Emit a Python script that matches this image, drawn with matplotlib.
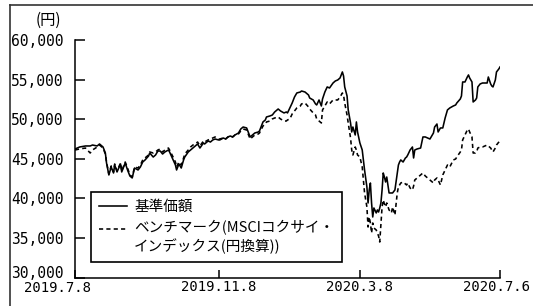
import matplotlib
matplotlib.use("Agg")
import matplotlib.pyplot as plt
from matplotlib.lines import Line2D
from matplotlib.legend_handler import HandlerLine2D
from matplotlib.transforms import ScaledTranslation
import pandas as pd

plt.rcParams['font.family'] = ['Noto Sans CJK JP', 'DejaVu Sans']

dates = [
    "2019-07-08", "2019-07-12", "2019-07-17", "2019-07-21", "2019-07-23", "2019-07-27", "2019-07-29",
    "2019-08-01", "2019-08-03", "2019-08-04", "2019-08-06", "2019-08-08", "2019-08-10", "2019-08-11",
    "2019-08-13", "2019-08-16", "2019-08-17", "2019-08-20", "2019-08-22", "2019-08-24", "2019-08-26",
    "2019-08-28", "2019-08-31", "2019-09-02", "2019-09-04", "2019-09-06", "2019-09-09", "2019-09-10",
    "2019-09-13", "2019-09-15", "2019-09-17", "2019-09-19", "2019-09-21", "2019-09-23", "2019-09-26",
    "2019-09-27", "2019-09-30", "2019-10-02", "2019-10-03", "2019-10-05", "2019-10-07", "2019-10-09",
    "2019-10-10", "2019-10-13", "2019-10-15", "2019-10-17", "2019-10-19", "2019-10-21", "2019-10-23",
    "2019-10-26", "2019-10-27", "2019-10-30", "2019-11-01", "2019-11-03", "2019-11-05", "2019-11-08",
    "2019-11-09", "2019-11-12", "2019-11-14", "2019-11-16", "2019-11-18", "2019-11-20", "2019-11-22",
    "2019-11-25", "2019-11-27", "2019-11-29", "2019-12-02", "2019-12-03", "2019-12-05", "2019-12-07",
    "2019-12-09", "2019-12-12", "2019-12-13", "2019-12-16", "2019-12-18", "2019-12-19", "2019-12-22",
    "2019-12-24", "2019-12-26", "2019-12-29", "2019-12-31", "2020-01-03", "2020-01-05", "2020-01-06",
    "2020-01-08", "2020-01-10", "2020-01-12", "2020-01-14", "2020-01-17", "2020-01-18", "2020-01-21",
    "2020-01-24", "2020-01-25", "2020-01-28", "2020-01-30", "2020-01-31", "2020-02-02", "2020-02-04",
    "2020-02-05", "2020-02-07", "2020-02-09", "2020-02-11", "2020-02-14", "2020-02-16", "2020-02-18",
    "2020-02-20", "2020-02-22", "2020-02-23", "2020-02-24", "2020-02-26", "2020-02-27", "2020-02-29",
    "2020-03-01", "2020-03-02", "2020-03-04", "2020-03-05", "2020-03-06", "2020-03-08", "2020-03-10",
    "2020-03-11", "2020-03-12", "2020-03-14", "2020-03-15", "2020-03-16", "2020-03-17", "2020-03-18",
    "2020-03-19", "2020-03-20", "2020-03-22", "2020-03-23", "2020-03-24", "2020-03-25", "2020-03-26",
    "2020-03-27", "2020-03-28", "2020-03-29", "2020-03-30", "2020-03-31", "2020-04-02", "2020-04-04",
    "2020-04-05", "2020-04-07", "2020-04-09", "2020-04-10", "2020-04-11", "2020-04-12", "2020-04-14",
    "2020-04-16", "2020-04-17", "2020-04-18", "2020-04-20", "2020-04-22", "2020-04-23", "2020-04-24",
    "2020-04-26", "2020-04-29", "2020-05-01", "2020-05-03", "2020-05-05", "2020-05-07", "2020-05-10",
    "2020-05-11", "2020-05-13", "2020-05-14", "2020-05-16", "2020-05-18", "2020-05-20", "2020-05-22",
    "2020-05-24", "2020-05-27", "2020-05-29", "2020-05-30", "2020-06-02", "2020-06-03", "2020-06-04",
    "2020-06-06", "2020-06-08", "2020-06-09", "2020-06-10", "2020-06-12", "2020-06-13", "2020-06-15",
    "2020-06-16", "2020-06-17", "2020-06-19", "2020-06-21", "2020-06-23", "2020-06-25", "2020-06-26",
    "2020-06-28", "2020-06-29", "2020-06-30", "2020-07-02", "2020-07-03", "2020-07-05", "2020-07-06",
]

nav = [
    46270, 46520, 46650, 46650, 46770, 46650, 46900,
    46520, 45760, 44500, 42980, 43990, 43230, 44240,
    43360, 44370, 43360, 44500, 43610, 42850, 42600,
    43860, 43610, 43990, 44620, 44880, 45380, 45760,
    45250, 45510, 46010, 46010, 45630, 45890, 46140,
    45890, 44880, 44240, 43610, 44370, 43860, 44880,
    45250, 45890, 46140, 46390, 46650, 46900, 46390,
    47030, 46900, 47280, 47150, 47410, 47530, 47410,
    47410, 47660, 47530, 47790, 47910, 47790, 48040,
    48290, 48800, 49050, 48930, 48550, 47790, 48040,
    48290, 48420, 48550, 49690, 49940, 50320, 50450,
    50570, 50950, 51330, 51080, 50830, 50950, 50830,
    51460, 52090, 52850, 53360, 53480, 53610, 53480,
    53100, 52720, 52470, 51970, 51840, 52470, 51710,
    52600, 53480, 54120, 53990, 54620, 54880, 55000,
    55260, 56020, 55510, 54120, 52980, 51210, 49560,
    48420, 49050, 48040, 49690, 48420, 47030, 46140,
    44880, 43610, 41460, 39430, 41080, 41960, 39430,
    37660, 38800, 38170, 38550, 38290, 38800, 39430,
    41080, 43230, 42720, 42090, 42720, 40700, 40700,
    40700, 41080, 43230, 44240, 44620, 44880, 44620,
    45130, 45250, 45510, 46140, 46520, 45130, 46140,
    46270, 46390, 47790, 47790, 47660, 47530, 48290,
    49050, 49430, 48420, 48930, 48930, 50190, 51210,
    51460, 51710, 51840, 52090, 52600, 52980, 54750,
    54750, 55380, 55640, 55260, 54750, 52220, 52470,
    52720, 54120, 54500, 54620, 54620, 54620, 55380,
    54500, 54240, 54120, 55000, 56020, 56400, 56650,
]

bench = [
    46140, 46270, 46390, 45760, 46140, 46520, 46770,
    46390, 45630, 44620, 43100, 44120, 43360, 44370,
    43480, 44500, 43480, 44620, 43860, 42980, 42720,
    43990, 43860, 44240, 44880, 45130, 45510, 45890,
    45760, 45890, 46140, 46270, 45890, 46140, 46390,
    46140, 45250, 44620, 43990, 44620, 44240, 45130,
    45630, 46140, 46520, 46770, 46900, 47150, 46650,
    47280, 47150, 47410, 47530, 47660, 47790, 47530,
    47530, 47660, 47530, 47790, 47910, 47790, 48040,
    48170, 48550, 48800, 48670, 48290, 47530, 47790,
    48040, 48170, 48290, 49180, 49430, 49690, 49810,
    50070, 50190, 50320, 50070, 49810, 49810, 49940,
    50070, 50700, 51080, 51460, 51710, 51970, 52090,
    51590, 51330, 50830, 50570, 50070, 49810, 49560,
    51210, 51710, 52220, 51970, 52470, 52470, 52470,
    52850, 53360, 53100, 52090, 50570, 49560, 47660,
    46140, 45510, 46520, 46140, 45510, 45250, 43990,
    42340, 40700, 38930, 36390, 37660, 36900, 35630,
    36900, 36270, 36010, 35630, 35250, 34490, 36650,
    38930, 39810, 39310, 38930, 39430, 38550, 38170,
    38930, 37910, 40700, 41460, 41710, 41960, 42090,
    41840, 41710, 41960, 41330, 41080, 41580, 42340,
    42600, 42980, 43230, 42850, 42600, 42340, 41960,
    42340, 42600, 42340, 41710, 42980, 43610, 44240,
    43990, 44880, 45000, 45250, 45890, 46140, 47410,
    48040, 48670, 48800, 48420, 47790, 45760, 45760,
    45890, 46390, 46520, 46520, 46650, 46770, 46650,
    46390, 46140, 45890, 46390, 46770, 47150, 47410,
]

tick_dates = ["2019-07-08", "2019-11-08", "2020-03-08", "2020-07-06"]
tick_labels = ["2019.7.8", "2019.11.8", "2020.3.8", "2020.7.6"]
y_ticks = [30000, 35000, 40000, 45000, 50000, 55000, 60000]
y_labels = ["30,000", "35,000", "40,000", "45,000", "50,000", "55,000", "60,000"]
label_nav = "基準価額"
label_bench = "ベンチマーク(MSCIコクサイ・\nインデックス(円換算))"
unit_label = "(円)"


class RaisedLineHandler(HandlerLine2D):
    """Line handle raised so it sits beside the first line of a two-line label."""
    def __init__(self, dy=0.0, **kw):
        super().__init__(**kw)
        self.dy = dy

    def create_artists(self, legend, orig_handle, xdescent, ydescent,
                       width, height, fontsize, trans):
        return super().create_artists(legend, orig_handle, xdescent,
                                      ydescent - 2 * self.dy, width, height,
                                      fontsize, trans)


W, H = 533, 306
fig = plt.figure(figsize=(W / 100, H / 100), dpi=100)
ax = fig.add_axes([75 / W, 1 - 277.5 / H, 425 / W, 237 / H])

x = pd.to_datetime(dates)
l_nav, = ax.plot(x, nav, color="black", lw=1.15, label=label_nav)
l_bench, = ax.plot(x, bench, color="black", lw=1.15, linestyle=(0, (2.6, 2.0)), label=label_bench)

ax.set_xlim(pd.Timestamp(tick_dates[0]), pd.Timestamp(tick_dates[-1]))
ax.set_ylim(30000, 60000)

ax.set_xticks(pd.to_datetime(tick_dates))
ax.set_xticklabels(tick_labels, family="DejaVu Sans Mono", fontsize=10)
ax.set_yticks(y_ticks)
ax.set_yticklabels(y_labels, family="DejaVu Sans Mono", fontsize=10.5)

ax.tick_params(axis="x", direction="in", length=6, width=1.1, pad=2, colors="black")
ax.tick_params(axis="y", direction="in", length=7, width=1.1, pad=8, colors="black")

for s in ["top", "right"]:
    ax.spines[s].set_visible(False)
for s in ["left", "bottom"]:
    ax.spines[s].set_linewidth(1.1)
    ax.spines[s].set_color("black")

# label offsets as in the reference
xl = ax.get_xticklabels()
xl[0].set_transform(xl[0].get_transform() + ScaledTranslation(-17 / 100, -1 / 100, fig.dpi_scale_trans))
xl[-1].set_transform(xl[-1].get_transform() + ScaledTranslation(-3 / 100, 0, fig.dpi_scale_trans))
yl = ax.get_yticklabels()
yl[0].set_transform(yl[0].get_transform() + ScaledTranslation(0, 5.5 / 100, fig.dpi_scale_trans))

leg = ax.legend(handles=[l_nav, l_bench],
                handler_map={l_bench: RaisedLineHandler(dy=6.5)},
                loc="upper left", bbox_to_anchor=((91 - 75) / 425, (277.5 - 192) / 237),
                borderaxespad=0, frameon=True, fancybox=False, framealpha=1,
                edgecolor="black", prop={"size": 10.5}, handlelength=1.95,
                handletextpad=0.45, borderpad=0.55, labelspacing=0.45)
leg.get_frame().set_linewidth(1.2)

fig.text(48 / W, 1 - 20 / H, unit_label, ha="center", va="center", fontsize=11)

# outer frame lines (left and top)
fig.add_artist(Line2D([10 / W, 10 / W], [0, 1 - 5 / H], transform=fig.transFigure, color="#333333", lw=1.2))
fig.add_artist(Line2D([10 / W, 1], [1 - 5 / H, 1 - 5 / H], transform=fig.transFigure, color="#333333", lw=1.2))

fig.savefig("out.png", dpi=100)
